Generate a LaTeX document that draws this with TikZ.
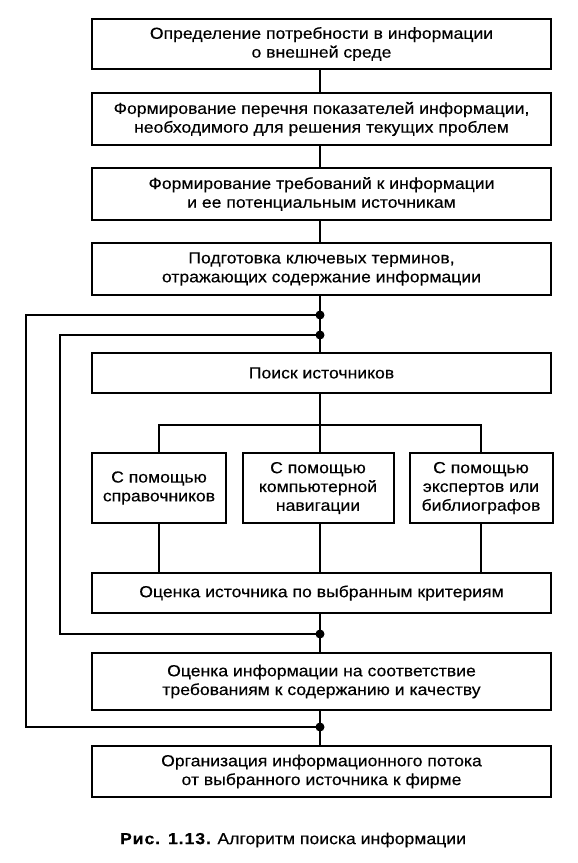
\documentclass[tikz,border=0pt]{standalone}
\usepackage{fontspec}
\setmainfont{Liberation Sans}[FakeStretch=1.1,FakeBold=0.3]
\begin{document}
\begin{tikzpicture}[x=1pt,y=-1pt,
  box/.style={draw,line width=2pt,align=center,inner sep=0pt,
    font=\fontsize{16}{18.8}\selectfont},
  wide/.style={box,minimum width=459pt},
  small/.style={box,minimum height=70pt},
  ln/.style={line width=2pt},
  dot/.style={circle,fill,inner sep=0pt,minimum size=9pt}]
\useasboundingbox (0,0) rectangle (578,863);
\node[wide,minimum height=50pt] (b1) at (321.5,44) {Определение потребности в информации\\о внешней среде};
\node[wide,minimum height=52pt] (b2) at (321.5,119) {Формирование перечня показателей информации,\\необходимого для решения текущих проблем};
\node[wide,minimum height=52pt] (b3) at (321.5,194) {Формирование требований к информации\\и ее потенциальным источникам};
\node[wide,minimum height=52pt] (b4) at (321.5,269) {Подготовка ключевых терминов,\\отражающих содержание информации};
\node[wide,minimum height=40pt] (b5) at (321.5,373) {Поиск источников};
\node[small,minimum width=134pt] (sa) at (159,488) {С помощью\\справочников};
\node[small,minimum width=151pt] (sb) at (318,488) {С помощью\\компьютерной\\навигации};
\node[small,minimum width=143pt] (sc) at (481,488) {С помощью\\экспертов или\\библиографов};
\node[wide,minimum height=40pt] (b6) at (321.5,593) {Оценка источника по выбранным критериям};
\node[wide,minimum height=57pt] (b7) at (321.5,681.5) {Оценка информации на соответствие\\требованиям к содержанию и качеству};
\node[wide,minimum height=51pt] (b8) at (321.5,771.5) {Организация информационного потока\\от выбранного источника к фирме};
\node[font=\fontsize{16}{18}\selectfont] (cap) at (293,840) {{\bfseries\addfontfeature{LetterSpace=6}Рис. 1.13.} Алгоритм поиска информации};
\coordinate (j1) at (320,315);
\coordinate (j2) at (320,335);
\coordinate (j3) at (320,634);
\coordinate (j4) at (320,727);
\coordinate (l1) at (26,500);
\coordinate (l2) at (60,500);
\coordinate (br) at (320,425);
\draw[ln] (b1.south -| j1) -- (b2.north -| j1);
\draw[ln] (b2.south -| j1) -- (b3.north -| j1);
\draw[ln] (b3.south -| j1) -- (b4.north -| j1);
\draw[ln] (b4.south -| j1) -- (b5.north -| j1);
\draw[ln] (b5.south -| j1) -- (br);
\draw[ln] (sa.north) |- (br) -| (sc.north);
\draw[ln] (br) -- (sb.north -| br);
\draw[ln] (sa.south) -- (sa.south |- b6.north);
\draw[ln] (sb.south -| br) -- (b6.north -| br);
\draw[ln] (sc.south) -- (sc.south |- b6.north);
\draw[ln] (b6.south -| j1) -- (b7.north -| j1);
\draw[ln] (b7.south -| j1) -- (b8.north -| j1);
\draw[ln] (j1) -| (l1) |- (j4);
\draw[ln] (j2) -| (l2) |- (j3);
\foreach \j in {j1,j2,j3,j4} \node[dot] at (\j) {};
\end{tikzpicture}
\end{document}
